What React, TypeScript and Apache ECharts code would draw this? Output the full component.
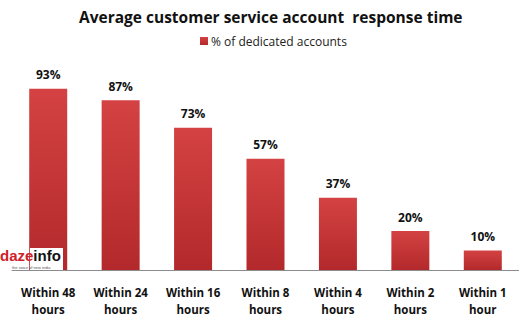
import React, { useEffect, useRef } from "react";
import * as echarts from "echarts";

const categories = [
  "Within 48\nhours",
  "Within 24\nhours",
  "Within 16\nhours",
  "Within 8\nhours",
  "Within 4\nhours",
  "Within 2\nhours",
  "Within 1\nhour",
];
const values = [93, 87, 73, 57, 37, 20, 10];
const seriesName = "% of dedicated accounts";
const titleText = "Average customer service account  response time";

export default function App() {
  const ref = useRef<HTMLDivElement>(null);
  useEffect(() => {
    if (!ref.current) return;
    const chart = echarts.init(ref.current, null, { renderer: "svg" });
    const font = "'Open Sans', 'Liberation Sans', sans-serif";
    chart.setOption({
      animation: false,
      backgroundColor: "#ffffff",
      title: {
        text: titleText,
        left: 74,
        top: 4,
        textStyle: { fontFamily: font, fontSize: 15.5, fontWeight: "bold", color: "#111" },
      },
      legend: {
        top: 30,
        left: 195,
        itemWidth: 8,
        itemHeight: 8,
        itemGap: 4,
        icon: "rect",
        textStyle: { fontFamily: font, fontSize: 12, color: "#222", padding: [0, 0, 0, -2] },
        data: [seriesName],
      },
      grid: { left: 12, width: 511, top: 75, bottom: 55 },
      xAxis: {
        type: "category",
        data: categories,
        axisLine: { lineStyle: { color: "#8c8c8c", width: 1 } },
        axisTick: { show: false },
        axisLabel: {
          interval: 0,
          margin: 14,
          fontFamily: font,
          fontSize: 11.5,
          fontWeight: "bold",
          color: "#111",
          lineHeight: 17,
        },
      },
      yAxis: {
        type: "value",
        min: 0,
        max: 100,
        show: false,
        splitLine: { show: false },
      },
      series: [
        {
          name: seriesName,
          type: "bar",
          data: values,
          barWidth: 38,
          itemStyle: {
            color: new echarts.graphic.LinearGradient(0, 0, 0, 1, [
              { offset: 0, color: "#d44243" },
              { offset: 1, color: "#b3292b" },
            ]),
          },
          label: {
            show: true,
            position: "top",
            distance: 8,
            formatter: "{c}%",
            fontFamily: font,
            fontSize: 12,
            fontWeight: "bold",
            color: "#111",
          },
        },
      ],
      color: ["#c0393b"],
      graphic: [
        { type: "rect", shape: { x: 30, y: 248, width: 33, height: 22 }, style: { fill: "#ffffff" }, z: 100 },
        {
          type: "text",
          x: 0,
          y: 248,
          z: 101,
          style: {
            text: "{r|daze}{k|info}",
            rich: {
              r: { fill: "#d0202a", fontSize: 15, fontWeight: "bold", fontFamily: "'Liberation Sans', sans-serif" },
              k: { fill: "#111", fontSize: 15, fontWeight: "bold", fontFamily: "'Liberation Sans', sans-serif" },
            },
          },
        },
        {
          type: "text",
          x: 12,
          y: 265,
          z: 101,
          style: { text: "the voice of new india", fontSize: 4, fill: "#555", fontFamily: "sans-serif" },
        },
      ],
    });
    return () => chart.dispose();
  }, []);
  return <div ref={ref} style={{ width: 519, height: 325, position: "absolute", left: 0, top: 0 }} />;
}
